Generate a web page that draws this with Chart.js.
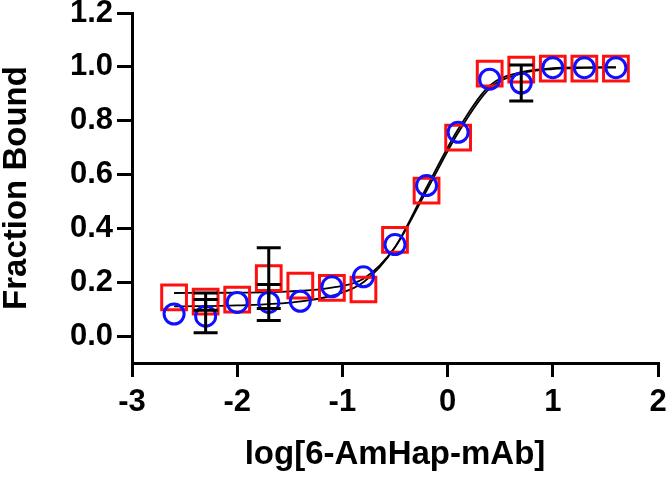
<!DOCTYPE html>
<html>
<head>
<meta charset="utf-8">
<script src="https://cdn.jsdelivr.net/npm/chart.js@4/dist/chart.umd.min.js"></script>
<style>
  html, body { margin: 0; padding: 0; background: #fff; }
  #wrap { width: 667px; height: 477px; }
</style>
</head>
<body>
<div id="wrap"><canvas id="chart" width="667" height="477"></canvas></div>
<script>
// ── Data ──────────────────────────────────────────────────────────────────────
const logConc  = [-2.6, -2.3, -2.0, -1.7, -1.4, -1.1, -0.8, -0.5, -0.2, 0.1, 0.4, 0.7, 1.0, 1.3, 1.6];
const redMean  = [0.144, 0.128, 0.135, 0.215, 0.187, 0.179, 0.173, 0.357, 0.540, 0.737, 0.975, 0.990, 0.993, 0.993, 0.993];
const redErr   = [0, 0.032, 0, 0.113, 0, 0, 0, 0, 0, 0, 0, 0, 0, 0, 0];
const blueMean = [0.082, 0.074, 0.125, 0.125, 0.129, 0.183, 0.220, 0.340, 0.559, 0.757, 0.954, 0.940, 0.997, 0.997, 0.997];
const blueErr  = [0, 0.062, 0, 0.067, 0, 0, 0, 0, 0, 0, 0, 0.067, 0, 0, 0];

// fitted curves
const fitX     = [-2.6, -2.0, -1.5, -1.1, -0.8, -0.5, -0.2, 0.1, 0.4, 0.7, 1.0, 1.3, 1.6];
const redFit   = [0.160, 0.161, 0.166, 0.180, 0.213, 0.330, 0.540, 0.755, 0.920, 0.975, 0.992, 0.996, 0.997];
const blueFit  = [0.110, 0.114, 0.124, 0.150, 0.200, 0.330, 0.552, 0.768, 0.930, 0.980, 0.995, 0.998, 0.999];

const xTicks = [-3, -2, -1, 0, 1, 2];
const yTicks = [0, 0.2, 0.4, 0.6, 0.8, 1.0, 1.2];

const FONT = "'Liberation Sans', Arial, Helvetica, sans-serif";
const pts = (xs, ys) => xs.map((x, i) => ({ x, y: ys[i] }));

// ── Error bars ────────────────────────────────────────────────────────────────
const errorBars = {
  id: 'errorBars',
  afterDatasetsDraw(chart) {
    const { ctx, scales: { x, y } } = chart;
    const series = [[redMean, redErr], [blueMean, blueErr]];
    ctx.save();
    ctx.strokeStyle = '#000';
    ctx.lineWidth = 3;
    series.forEach(([mean, err]) => {
      logConc.forEach((lx, i) => {
        if (!err[i]) return;
        const px = x.getPixelForValue(lx);
        const top = y.getPixelForValue(mean[i] + err[i]);
        const bot = y.getPixelForValue(mean[i] - err[i]);
        ctx.beginPath();
        ctx.moveTo(px, top); ctx.lineTo(px, bot);
        ctx.moveTo(px - 12, top); ctx.lineTo(px + 12, top);
        ctx.moveTo(px - 12, bot); ctx.lineTo(px + 12, bot);
        ctx.stroke();
      });
    });
    ctx.restore();
  },
};

// ── Chart ─────────────────────────────────────────────────────────────────────
new Chart(document.getElementById('chart'), {
  type: 'scatter',
  data: {
    datasets: [
      {
        label: 'blue',
        data: pts(logConc, blueMean),
        pointStyle: 'circle',
        pointRadius: 10,
        pointBorderWidth: 3,
        pointBorderColor: '#1010ff',
        pointBackgroundColor: 'rgba(0,0,0,0)',
        order: 0,
      },
      {
        label: 'red',
        data: pts(logConc, redMean),
        pointStyle: 'rect',
        pointRadius: 17.5,
        pointBorderWidth: 3,
        pointBorderColor: '#ff1010',
        pointBackgroundColor: 'rgba(0,0,0,0)',
        order: 1,
      },
      {
        label: 'red fit',
        type: 'line',
        data: pts(fitX, redFit),
        borderColor: '#000',
        borderWidth: 1.8,
        pointRadius: 0,
        cubicInterpolationMode: 'monotone',
        order: 2,
      },
      {
        label: 'blue fit',
        type: 'line',
        data: pts(fitX, blueFit),
        borderColor: '#000',
        borderWidth: 1.8,
        pointRadius: 0,
        cubicInterpolationMode: 'monotone',
        order: 2,
      },
    ],
  },
  options: {
    responsive: false,
    animation: false,
    devicePixelRatio: 1,
    layout: { autoPadding: false, padding: { top: 13, right: 9, left: 0, bottom: 0 } },
    plugins: { legend: { display: false }, tooltip: { enabled: false } },
    scales: {
      x: {
        type: 'linear',
        min: -3, max: 2,
        afterBuildTicks: (s) => { s.ticks = xTicks.map((v) => ({ value: v })); },
        afterFit: (s) => { s.height = 114; s.paddingLeft = 0; s.paddingRight = 0; },
        border: { display: true, color: '#000', width: 3 },
        grid: { drawOnChartArea: false, drawTicks: true, tickLength: 14, color: '#000', lineWidth: 3 },
        ticks: {
          color: '#000', padding: 7,
          font: { family: FONT, size: 31, weight: 'bold' },
          callback: (v) => String(v),
        },
        title: {
          display: true, text: 'log[6-AmHap-mAb]', color: '#000',
          font: { family: FONT, size: 33, weight: 'bold', lineHeight: 1 },
          padding: { top: 0, bottom: 6 },
        },
      },
      y: {
        type: 'linear',
        min: -0.1, max: 1.2,
        afterBuildTicks: (s) => { s.ticks = yTicks.map((v) => ({ value: v })); },
        afterFit: (s) => { s.width = 132; s.paddingTop = 0; s.paddingBottom = 0; },
        border: { display: true, color: '#000', width: 3 },
        grid: { drawOnChartArea: false, drawTicks: true, tickLength: 15, color: '#000', lineWidth: 3 },
        ticks: {
          color: '#000', padding: 4,
          font: { family: FONT, size: 31, weight: 'bold' },
          callback: (v) => v.toFixed(1),
        },
        title: {
          display: true, text: 'Fraction Bound', color: '#000',
          font: { family: FONT, size: 33, weight: 'bold', lineHeight: 1 },
          padding: { top: 0, bottom: 0 },
        },
      },
    },
  },
  plugins: [errorBars],
});
</script>
</body>
</html>
